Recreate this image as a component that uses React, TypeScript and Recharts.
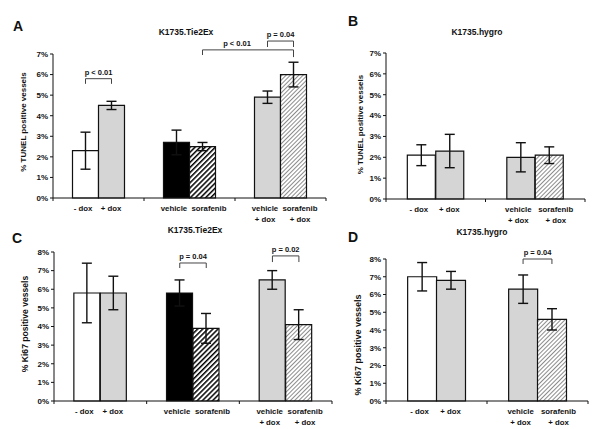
import React from 'react';
import { BarChart, Bar, XAxis, YAxis, Cell, ErrorBar, ReferenceLine, LabelList } from 'recharts';

const FONT = '"Liberation Sans", Arial, Helvetica, sans-serif';
const INK = '#111111';

// ---------- data ----------
const tie2Labels = ['- dox', '+ dox', 'vehicle', 'sorafenib', 'vehicle\n+ dox', 'sorafenib\n+ dox'];
const hygroLabels = ['- dox', '+ dox', 'vehicle\n+ dox', 'sorafenib\n+ dox'];

const tie2Fills = ['white', 'grey', 'black', 'darkHatch', 'grey', 'lightHatch'];
const hygroFills = ['white', 'grey', 'grey', 'lightHatch'];

const tunelTie2Values = [2.3, 4.5, 2.7, 2.5, 4.9, 6.0];
const tunelTie2Errors = [0.9, 0.2, 0.6, 0.2, 0.3, 0.6];

const tunelHygroValues = [2.1, 2.3, 2.0, 2.1];
const tunelHygroErrors = [0.5, 0.8, 0.7, 0.4];

const ki67Tie2Values = [5.8, 5.8, 5.8, 3.9, 6.5, 4.1];
const ki67Tie2Errors = [1.6, 0.9, 0.7, 0.8, 0.5, 0.8];

const ki67HygroValues = [7.0, 6.8, 6.3, 4.6];
const ki67HygroErrors = [0.8, 0.5, 0.8, 0.6];

const tunelTicks = [0, 1, 2, 3, 4, 5, 6, 7];
const ki67Ticks = [0, 1, 2, 3, 4, 5, 6, 7, 8];

const tunelTie2Brackets = [
  { from: 0, to: 1, level: 5.8, footL: 5.55, footR: 5.55, text: 'p < 0.01', shift: 0 },
  { from: 3, to: 5, level: 7.2, footL: 6.95, footR: 6.85, text: 'p < 0.01', shift: -11 },
  { from: 4, to: 5, level: 7.63, footL: 7.34, footR: 7.34, text: 'p = 0.04', shift: 0 },
];
const tunelHygroBrackets: any[] = [];
const ki67Tie2Brackets = [
  { from: 2, to: 3, level: 7.41, footL: 7.14, footR: 7.14, text: 'p = 0.04', shift: 0 },
  { from: 4, to: 5, level: 7.79, footL: 7.46, footR: 7.46, text: 'p = 0.02', shift: 0 },
];
const ki67HygroBrackets = [
  { from: 2, to: 3, level: 8.0, footL: 7.72, footR: 7.72, text: 'p = 0.04', shift: 0 },
];

// ---------- helpers ----------
const BAR_STEP = 1 / 7; // half the distance between the two bar centres of a pair, in group units

const EmptyTick = () => null;

const BarLabel = (props: any) => {
  const vb = props.viewBox || props;
  const value: string = String(props.value ?? '');
  const index: number = props.index ?? 0;
  const lines = value.split('\n');
  const longest = Math.max(...lines.map((l) => l.length));
  const isRight = index % 2 === 1;
  const dx = isRight ? (longest > 5 ? 6.5 : -0.5) : -2.5;
  const cx = vb.x + vb.width / 2 + dx;
  const base = vb.y + vb.height;
  return (
    <text textAnchor="middle" fontSize={7.8} fontWeight={700} fontFamily={FONT} fill={INK}>
      {lines.map((ln, i) => (
        <tspan key={i} x={cx} y={base + 13 + i * 10.5}>
          {ln}
        </tspan>
      ))}
    </text>
  );
};

const BracketLabel = (props: any) => {
  const { viewBox, text, shift = 0 } = props;
  if (!viewBox) return null;
  return (
    <text
      x={viewBox.x + viewBox.width / 2 + shift}
      y={viewBox.y - 4}
      textAnchor="middle"
      fontSize={7.5}
      fontWeight={700}
      fontFamily={FONT}
      fill={INK}
    >
      {text}
    </text>
  );
};

const YLabel = (props: any) => {
  const { viewBox, text, offsetX, shiftY, size } = props;
  if (!viewBox) return null;
  const cx = viewBox.x + offsetX;
  const cy = viewBox.y + viewBox.height / 2 + shiftY;
  return (
    <text
      transform={`translate(${cx},${cy}) rotate(-90)`}
      textAnchor="middle"
      dominantBaseline="central"
      fontSize={size}
      fontWeight={700}
      fontFamily={FONT}
      fill={INK}
    >
      {text}
    </text>
  );
};

type PanelProps = {
  id: string;
  labels: string[];
  values: number[];
  errors: number[];
  fills: string[];
  ticks: number[];
  brackets: any[];
  yLabel: string;
  width: number;
  height: number;
  margin: { top: number; right: number; left: number; bottom: number };
  yAxisWidth: number;
  xAxisHeight: number;
  yLabelX: number;
  yLabelShift: number;
  yLabelSize: number;
  maxBar: number;
};

function Panel(p: PanelProps) {
  const groups = p.labels.length / 2;
  const data = p.labels.map((label, i) => ({
    x: Math.floor(i / 2) + 0.5 + (i % 2 === 0 ? -BAR_STEP : BAR_STEP),
    value: p.values[i],
    err: p.errors[i],
    label,
  }));
  const fillOf = (f: string) =>
    f === 'white'
      ? '#ffffff'
      : f === 'grey'
      ? '#d5d5d5'
      : f === 'black'
      ? '#000000'
      : f === 'darkHatch'
      ? `url(#dh-${p.id})`
      : `url(#lh-${p.id})`;
  const xTicks = Array.from({ length: groups + 1 }, (_, i) => i);
  const yMax = p.ticks[p.ticks.length - 1];

  return (
    <BarChart
      width={p.width}
      height={p.height}
      data={data}
      margin={p.margin}
      barCategoryGap={0}
      barGap={0}
    >
      <defs>
        <pattern id={`dh-${p.id}`} patternUnits="userSpaceOnUse" width={3.6} height={3.6} patternTransform="rotate(45)">
          <rect x={0} y={0} width={3.6} height={3.6} fill="#ffffff" />
          <rect x={0} y={0} width={1.5} height={3.6} fill="#000000" />
        </pattern>
        <pattern id={`lh-${p.id}`} patternUnits="userSpaceOnUse" width={3} height={3} patternTransform="rotate(45)">
          <rect x={0} y={0} width={3} height={3} fill="#ffffff" />
          <rect x={0} y={0} width={1} height={3} fill="#8c8c8c" />
        </pattern>
      </defs>
      <XAxis
        type="number"
        dataKey="x"
        domain={[0, groups]}
        ticks={xTicks}
        tick={EmptyTick}
        tickSize={3}
        height={p.xAxisHeight}
        axisLine={{ stroke: INK, strokeWidth: 1 }}
        tickLine={{ stroke: INK, strokeWidth: 1 }}
      />
      <YAxis
        type="number"
        domain={[0, yMax]}
        ticks={p.ticks}
        interval={0}
        width={p.yAxisWidth}
        tickSize={3}
        tickFormatter={(v: number) => `${v}%`}
        tick={{ fontSize: 8, fontWeight: 700, fill: INK, fontFamily: FONT }}
        axisLine={{ stroke: INK, strokeWidth: 1 }}
        tickLine={{ stroke: INK, strokeWidth: 1 }}
        label={<YLabel text={p.yLabel} offsetX={p.yLabelX} shiftY={p.yLabelShift} size={p.yLabelSize} />}
      />
      <Bar dataKey="value" isAnimationActive={false} stroke={INK} strokeWidth={1.2} maxBarSize={p.maxBar}>
        {data.map((d, i) => (
          <Cell key={i} fill={fillOf(p.fills[i])} />
        ))}
        <ErrorBar dataKey="err" width={5} stroke={INK} strokeWidth={1.4} direction="y" />
        <LabelList dataKey="label" content={BarLabel} />
      </Bar>
      {p.brackets.map((b, i) => {
        const x1 = data[b.from].x;
        const x2 = data[b.to].x;
        return (
          <React.Fragment key={i}>
            <ReferenceLine
              segment={[{ x: x1, y: b.level }, { x: x2, y: b.level }]}
              ifOverflow="visible"
              stroke="#444"
              strokeWidth={1}
              label={<BracketLabel text={b.text} shift={b.shift} />}
            />
            <ReferenceLine
              segment={[{ x: x1, y: b.level }, { x: x1, y: b.footL }]}
              ifOverflow="visible"
              stroke="#444"
              strokeWidth={1}
            />
            <ReferenceLine
              segment={[{ x: x2, y: b.level }, { x: x2, y: b.footR }]}
              ifOverflow="visible"
              stroke="#444"
              strokeWidth={1}
            />
          </React.Fragment>
        );
      })}
    </BarChart>
  );
}

const panelTitles = [
  { letter: 'A', lx: 13, ly: 31, title: 'K1735.Tie2Ex', tx: 186, ty: 35 },
  { letter: 'B', lx: 348, ly: 26, title: 'K1735.hygro', tx: 477, ty: 35 },
  { letter: 'C', lx: 12, ly: 243, title: 'K1735.Tie2Ex', tx: 195, ty: 233 },
  { letter: 'D', lx: 348, ly: 242, title: 'K1735.hygro', tx: 482, ty: 235 },
];

export default function App() {
  return (
    <div style={{ position: 'absolute', left: 0, top: 0, width: 600, height: 429, background: '#ffffff', overflow: 'hidden' }}>
      <div style={{ position: 'absolute', left: 0, top: 0 }}>
        <Panel
          id="a"
          labels={tie2Labels}
          values={tunelTie2Values}
          errors={tunelTie2Errors}
          fills={tie2Fills}
          ticks={tunelTicks}
          brackets={tunelTie2Brackets}
          yLabel="% TUNEL positive vessels"
          width={340}
          height={232}
          margin={{ top: 54, right: 14, left: 0, bottom: 0 }}
          yAxisWidth={53}
          xAxisHeight={34}
          yLabelX={23}
          yLabelShift={-4}
          yLabelSize={8}
          maxBar={26}
        />
      </div>
      <div style={{ position: 'absolute', left: 300, top: 0 }}>
        <Panel
          id="b"
          labels={hygroLabels}
          values={tunelHygroValues}
          errors={tunelHygroErrors}
          fills={hygroFills}
          ticks={tunelTicks}
          brackets={tunelHygroBrackets}
          yLabel="% TUNEL positive vessels"
          width={300}
          height={232}
          margin={{ top: 53, right: 15, left: 0, bottom: 0 }}
          yAxisWidth={86}
          xAxisHeight={33}
          yLabelX={60}
          yLabelShift={-1.5}
          yLabelSize={8}
          maxBar={29}
        />
      </div>
      <div style={{ position: 'absolute', left: 0, top: 215 }}>
        <Panel
          id="c"
          labels={tie2Labels}
          values={ki67Tie2Values}
          errors={ki67Tie2Errors}
          fills={tie2Fills}
          ticks={ki67Ticks}
          brackets={ki67Tie2Brackets}
          yLabel="% Ki67 positive vessels"
          width={345}
          height={214}
          margin={{ top: 37, right: 13, left: 0, bottom: 0 }}
          yAxisWidth={54}
          xAxisHeight={28}
          yLabelX={25}
          yLabelShift={-2.5}
          yLabelSize={8.6}
          maxBar={27}
        />
      </div>
      <div style={{ position: 'absolute', left: 300, top: 215 }}>
        <Panel
          id="d"
          labels={hygroLabels}
          values={ki67HygroValues}
          errors={ki67HygroErrors}
          fills={hygroFills}
          ticks={ki67Ticks}
          brackets={ki67HygroBrackets}
          yLabel="% Ki67 positive vessels"
          width={300}
          height={214}
          margin={{ top: 44, right: 12, left: 0, bottom: 0 }}
          yAxisWidth={86}
          xAxisHeight={28}
          yLabelX={58}
          yLabelShift={15}
          yLabelSize={9}
          maxBar={29}
        />
      </div>
      <svg width={600} height={429} style={{ position: 'absolute', left: 0, top: 0, pointerEvents: 'none' }}>
        {panelTitles.map((t) => (
          <React.Fragment key={t.letter}>
            <text x={t.lx} y={t.ly} fontSize={14} fontWeight={700} fontFamily={FONT} fill={INK}>
              {t.letter}
            </text>
            <text x={t.tx} y={t.ty} textAnchor="middle" fontSize={8.5} fontWeight={700} fontFamily={FONT} fill={INK}>
              {t.title}
            </text>
          </React.Fragment>
        ))}
      </svg>
    </div>
  );
}
